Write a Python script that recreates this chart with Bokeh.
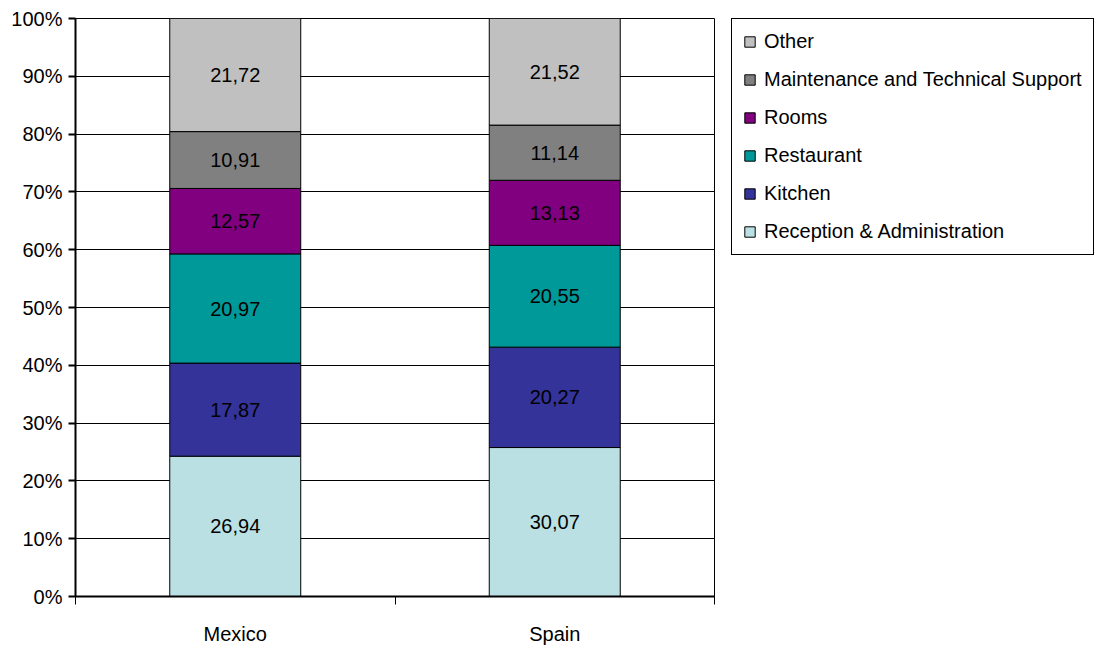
from bokeh.plotting import figure
from bokeh.models import ColumnDataSource, FixedTicker, Legend, LegendItem, LabelSet
from bokeh.core.properties import value
from bokeh.embed import file_html
from bokeh.resources import INLINE

countries = ["Mexico", "Spain"]
series = ["Reception & Administration", "Kitchen", "Restaurant", "Rooms",
          "Maintenance and Technical Support", "Other"]
reception = [26.94, 30.07]
kitchen = [17.87, 20.27]
restaurant = [20.97, 20.55]
rooms = [12.57, 13.13]
maintenance = [10.91, 11.14]
other = [21.72, 21.52]
colors = ["#BBE0E3", "#333399", "#009999", "#800080", "#808080", "#C0C0C0"]
y_ticks = [0, 10, 20, 30, 40, 50, 60, 70, 80, 90, 100]

values = [reception, kitchen, restaurant, rooms, maintenance, other]
keys = ["s%d" % i for i in range(len(series))]
totals = [sum(v[j] for v in values) for j in range(len(countries))]
xpos = [j + 0.5 for j in range(len(countries))]

data = {"x": xpos}
for k, v in zip(keys, values):
    data[k] = [v[j] / totals[j] * 100 for j in range(len(countries))]
src = ColumnDataSource(data)

FONT = "Liberation Sans"

p = figure(frame_width=639, frame_height=578, x_range=(0, 2), y_range=(0, 100),
           output_backend="svg", toolbar_location=None,
           min_border_left=75, min_border_top=18, min_border_bottom=53,
           min_border_right=0)
p.outline_line_color = "#000000"
p.outline_line_width = 1
p.background_fill_color = "white"
p.border_fill_color = "white"

renderers = p.vbar_stack(keys, x="x", width=0.41, source=src, color=colors,
                         line_color="black", line_width=1)

# labels
lx, ly, lt = [], [], []
for j in range(len(countries)):
    base = 0.0
    for v in values:
        pct = v[j] / totals[j] * 100
        lx.append(xpos[j])
        ly.append(base + pct / 2)
        lt.append(("%.2f" % v[j]).replace(".", ","))
        base += pct
lsrc = ColumnDataSource(dict(x=lx, y=ly, t=lt))
p.add_layout(LabelSet(x="x", y="y", text="t", source=lsrc, text_align="center",
                      text_baseline="middle", text_font=value(FONT),
                      text_font_size="20px", text_color="black"))

# grid
p.xgrid.visible = False
p.ygrid.ticker = FixedTicker(ticks=y_ticks)
p.ygrid.grid_line_color = "black"
p.ygrid.grid_line_width = 1
p.ygrid.grid_line_alpha = 1

# y axis
p.yaxis.ticker = FixedTicker(ticks=y_ticks)
p.yaxis.major_label_overrides = {t: "%d%%" % t for t in y_ticks}
p.yaxis.major_tick_out = 7
p.yaxis.major_tick_in = 0
p.yaxis.minor_tick_out = 0
p.yaxis.minor_tick_in = 0
p.yaxis.axis_line_width = 2
p.yaxis.major_tick_line_width = 2
p.yaxis.major_label_standoff = 6
p.yaxis.major_label_text_font = FONT
p.yaxis.major_label_text_font_size = "20px"
p.yaxis.major_label_text_color = "black"

# x axis
p.xaxis.ticker = FixedTicker(ticks=xpos, minor_ticks=[0, 1, 2])
p.xaxis.major_label_overrides = {x: c for x, c in zip(xpos, countries)}
p.xaxis.major_tick_out = 0
p.xaxis.major_tick_in = 0
p.xaxis.minor_tick_out = 8
p.xaxis.minor_tick_in = 0
p.xaxis.minor_tick_line_color = "black"
p.xaxis.minor_tick_line_width = 1
p.xaxis.axis_line_width = 2
p.xaxis.major_label_standoff = 18
p.xaxis.major_label_text_font = FONT
p.xaxis.major_label_text_font_size = "20px"
p.xaxis.major_label_text_color = "black"

items = [LegendItem(label=s, renderers=[r]) for s, r in zip(series, renderers)]
items = items[::-1]
legend = Legend(items=items, location=(17, 341), margin=0, padding=11,
                spacing=15, label_height=20, glyph_width=13, glyph_height=13,
                label_standoff=8, label_text_font=FONT,
                label_text_font_size="20px", label_text_color="black",
                border_line_color="black", border_line_width=1.5,
                border_line_alpha=1,
                background_fill_color="white", background_fill_alpha=1)
p.add_layout(legend, "right")

open("out.html", "w").write(file_html(p, INLINE))
